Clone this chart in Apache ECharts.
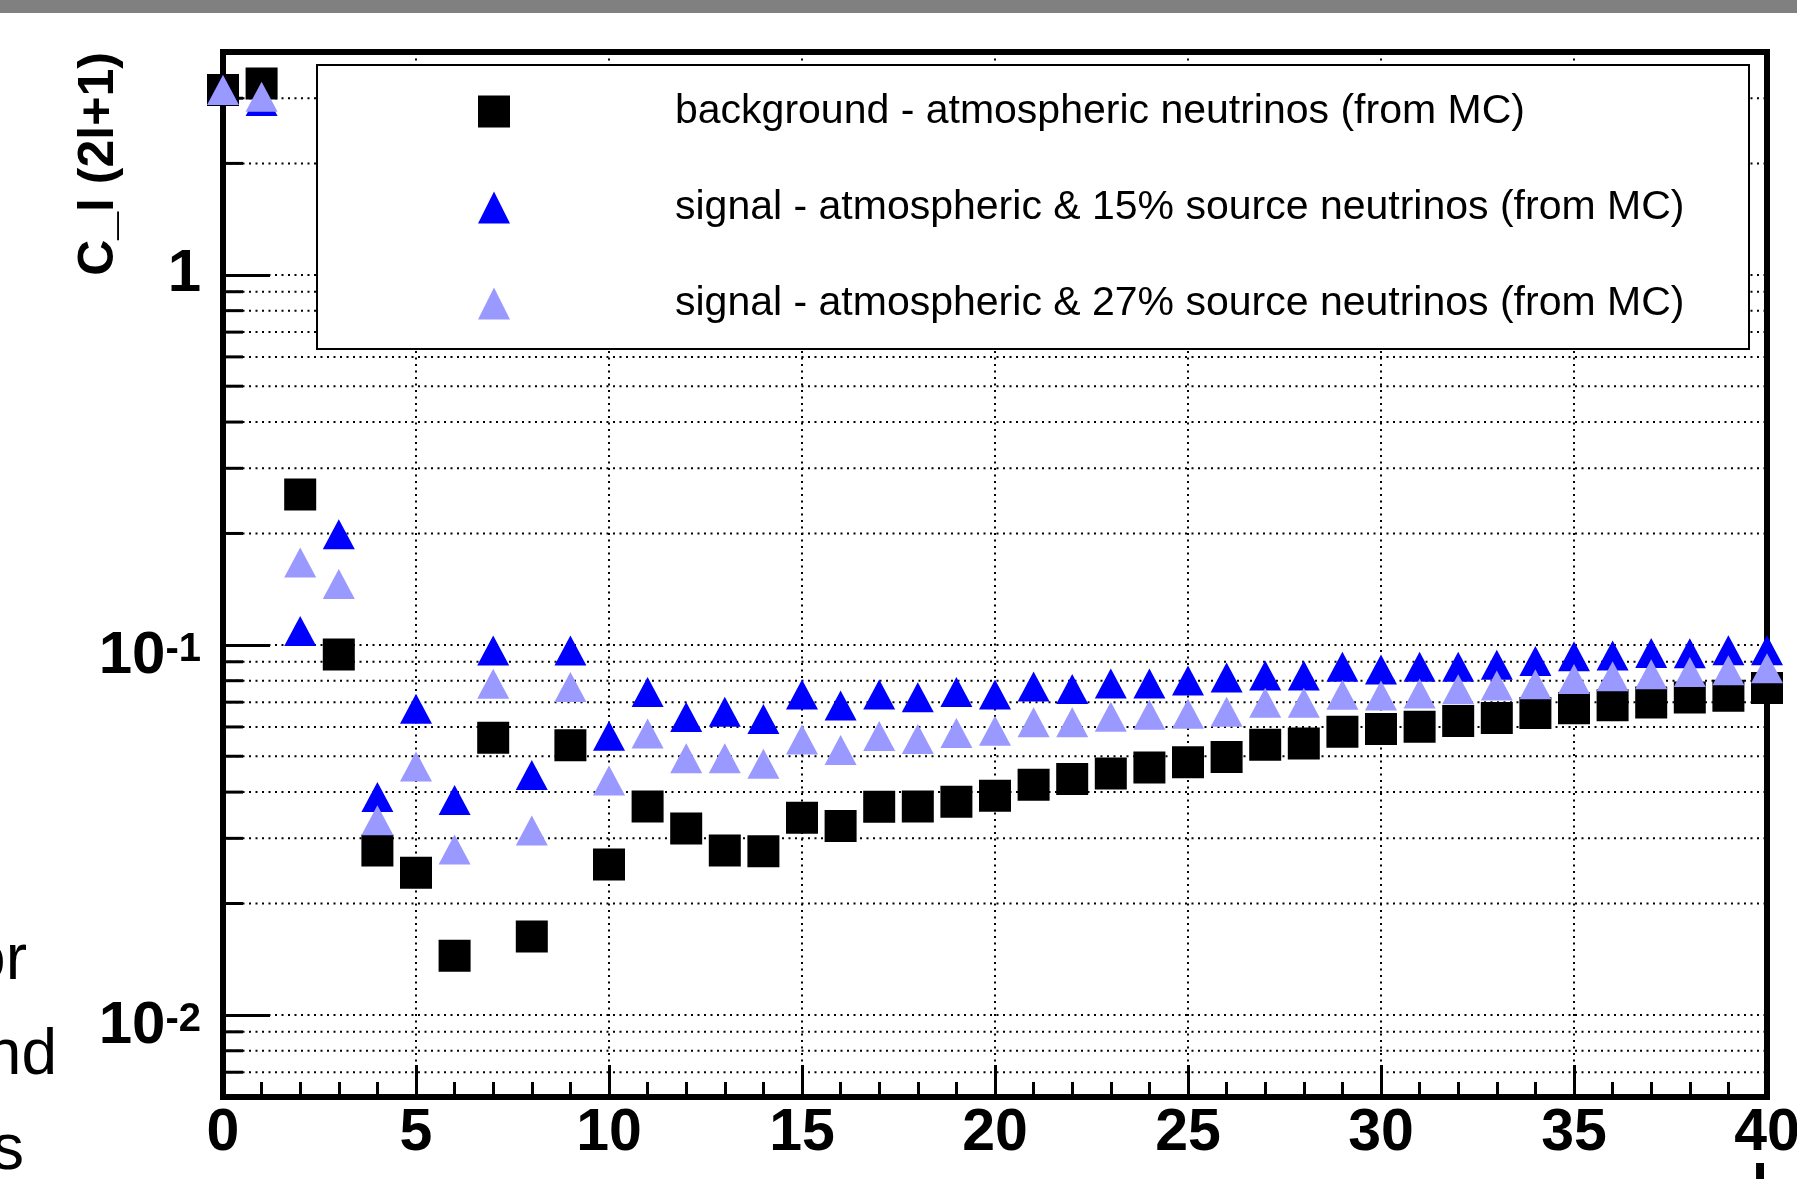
<!DOCTYPE html>
<html>
<head>
<meta charset="utf-8">
<script src="https://cdn.jsdelivr.net/npm/echarts@6.0.0/dist/echarts.min.js"></script>
<style>
  html, body { margin: 0; padding: 0; background: #fff; }
  #chart { width: 1797px; height: 1179px; }
</style>
</head>
<body>
<div id="chart"></div>
<script>
var chartDom = document.getElementById('chart');
var myChart = echarts.init(chartDom);
var option;

var FONT = '"Liberation Sans", Arial, Helvetica, sans-serif';

// multipole l
var ells = [0,1,2,3,4,5,6,7,8,9,10,11,12,13,14,15,16,17,18,19,20,
  21,22,23,24,25,26,27,28,29,30,31,32,33,34,35,36,37,38,39,40];

// C_l (2l+1)
var background = [3.16,3.29,0.255,0.0942,0.0278,0.0242,0.01445,0.0561,0.0163,0.0535,0.0255,
  0.0366,0.0319,0.0278,0.0277,0.0341,0.0324,0.0365,0.0366,0.0377,0.0391,
  0.0419,0.0434,0.0449,0.0466,0.0482,0.0498,0.0537,0.0541,0.0582,0.0592,
  0.0601,0.0623,0.0634,0.0654,0.0674,0.0687,0.0699,0.0721,0.0728,0.0764];
var signal15 = [3.16,2.95,0.109,0.199,0.0388,0.0672,0.0381,0.0965,0.0445,0.0965,0.0568,
  0.0746,0.0638,0.066,0.063,0.0734,0.0686,0.0734,0.0722,0.0746,0.0734,
  0.0772,0.076,0.0786,0.0786,0.0801,0.0816,0.0826,0.0826,0.0872,0.0858,
  0.0872,0.0872,0.0883,0.0905,0.0932,0.0936,0.0951,0.0949,0.0967,0.0967];
var signal27 = [3.16,3.03,0.167,0.146,0.0336,0.0469,0.028,0.0785,0.0315,0.0769,0.043,
  0.0576,0.0494,0.0494,0.0477,0.0555,0.052,0.0567,0.0557,0.0578,0.0586,
  0.0618,0.0618,0.0639,0.0647,0.0651,0.066,0.0697,0.0697,0.0733,0.073,
  0.0739,0.0759,0.0776,0.0783,0.0809,0.0823,0.0833,0.0844,0.0854,0.0865];

var seriesNames = [
  'background - atmospheric neutrinos (from MC)',
  'signal - atmospheric & 15% source neutrinos (from MC)',
  'signal - atmospheric & 27% source neutrinos (from MC)'
];

// axis ranges and the in-between log ticks (2..9 of each decade)
var xMin = 0, xMax = 40, xStep = 5;
var yMin = 0.006, yMax = 4;
var yMinorTicks = [0.007,0.008,0.009,
  0.02,0.03,0.04,0.05,0.06,0.07,0.08,0.09,
  0.2,0.3,0.4,0.5,0.6,0.7,0.8,0.9,
  2,3];

function pairs(vals) {
  return ells.map(function (l, i) { return [l, vals[i]]; });
}

var dotted = { color: '#000', width: 2, type: [2, 4.5] };

option = {
  animation: false,
  backgroundColor: '#fff',
  grid: {
    left: 223, right: 30, top: 52, bottom: 82,
    show: true, borderColor: '#000', borderWidth: 6,
    outerBoundsMode: 'none'
  },
  legend: {
    orient: 'vertical',
    left: 478, top: 91,
    padding: 0,
    itemWidth: 32, itemHeight: 32, itemGap: 55,
    selectedMode: false,
    z: 10,
    textStyle: {
      fontFamily: FONT, fontSize: 41, color: '#000',
      lineHeight: 32, padding: [0, 0, 0, 160]
    },
    data: seriesNames
  },
  xAxis: {
    type: 'value',
    min: xMin, max: xMax, interval: xStep,
    axisLine: { show: false },
    axisTick: { show: true, inside: true, length: 32, lineStyle: { color: '#000', width: 3 } },
    minorTick: { show: true, splitNumber: 5, length: 15, lineStyle: { color: '#000', width: 3 } },
    splitLine: { show: true, lineStyle: dotted },
    axisLabel: {
      margin: 7, color: '#000', fontFamily: FONT, fontWeight: 'bold', fontSize: 59, lineHeight: 59
    }
  },
  yAxis: {
    type: 'log',
    logBase: 10,
    min: yMin, max: yMax,
    axisLine: { show: false },
    axisTick: { show: true, inside: true, length: 47, lineStyle: { color: '#000', width: 3 } },
    splitLine: { show: true, lineStyle: dotted },
    axisLabel: {
      margin: 22, color: '#000', showMinLabel: false, showMaxLabel: false,
      formatter: function (v) {
        var e = Math.log10(v);
        var r = Math.round(e);
        if (Math.abs(e - r) > 1e-6) return '';
        if (r === 0) return '{one|1}';
        return '{base|10}{sup|' + r + '}';
      },
      rich: {
        one: { fontFamily: FONT, fontWeight: 'bold', fontSize: 60, lineHeight: 60, color: '#000' },
        base: { fontFamily: FONT, fontWeight: 'bold', fontSize: 60, lineHeight: 60, color: '#000', padding: [24, 0, 0, 0] },
        sup: { fontFamily: FONT, fontWeight: 'bold', fontSize: 40, lineHeight: 40, color: '#000', verticalAlign: 'top', padding: [15, 0, 0, 0] }
      }
    }
  },
  graphic: [
    { type: 'rect', z: 100, shape: { x: 0, y: 0, width: 1797, height: 13 }, style: { fill: '#808080' } },
    { type: 'rect', z: 5, shape: { x: 317, y: 65, width: 1432, height: 284 },
      style: { fill: '#fff', stroke: '#000', lineWidth: 2 } },
    { type: 'text', x: 99, y: 164, rotation: Math.PI / 2, z: 5,
      style: { text: 'C_l (2l+1)', fontFamily: FONT, fontWeight: 'bold', fontSize: 50,
        fill: '#000', align: 'center', verticalAlign: 'middle' } },
    { type: 'text', x: 1760, y: 1160, z: 5,
      style: { text: 'l', fontFamily: FONT, fontWeight: 'bold', fontSize: 58,
        fill: '#000', align: 'center', verticalAlign: 'top' } },
    { type: 'text', x: 27, y: 961, z: 5,
      style: { text: 'or', fontFamily: FONT, fontSize: 64, fill: '#000', align: 'right', verticalAlign: 'middle' } },
    { type: 'text', x: 57, y: 1056, z: 5,
      style: { text: 'nd', fontFamily: FONT, fontSize: 64, fill: '#000', align: 'right', verticalAlign: 'middle' } },
    { type: 'text', x: 24, y: 1151, z: 5,
      style: { text: 's', fontFamily: FONT, fontSize: 64, fill: '#000', align: 'right', verticalAlign: 'middle' } }
  ],
  series: [
    {
      // minor log ticks + their dotted grid lines
      type: 'custom',
      silent: true,
      z: 1,
      data: yMinorTicks.map(function (v) { return [xMin, v]; }),
      renderItem: function (params, api) {
        var a = api.coord([xMin, api.value(1)]);
        var b = api.coord([xMax, api.value(1)]);
        return {
          type: 'group',
          children: [
            { type: 'line', shape: { x1: a[0], y1: a[1], x2: b[0], y2: b[1] },
              style: { stroke: '#000', lineWidth: 2, lineDash: [2, 4.5] } },
            { type: 'line', shape: { x1: a[0], y1: a[1], x2: a[0] + 20, y2: a[1] },
              style: { stroke: '#000', lineWidth: 3 } }
          ]
        };
      }
    },
    {
      name: seriesNames[0],
      type: 'scatter',
      clip: false,
      z: 2,
      symbol: 'rect',
      symbolSize: 32,
      itemStyle: { color: '#000', opacity: 1 },
      data: pairs(background)
    },
    {
      name: seriesNames[1],
      type: 'scatter',
      clip: false,
      z: 3,
      symbol: 'triangle',
      symbolSize: [32, 30],
      itemStyle: { color: '#0000ff', opacity: 1 },
      data: pairs(signal15)
    },
    {
      name: seriesNames[2],
      type: 'scatter',
      clip: false,
      z: 4,
      symbol: 'triangle',
      symbolSize: [32, 30],
      itemStyle: { color: '#9999ff', opacity: 1 },
      data: pairs(signal27)
    }
  ]
};

option && myChart.setOption(option);
</script>
</body>
</html>
